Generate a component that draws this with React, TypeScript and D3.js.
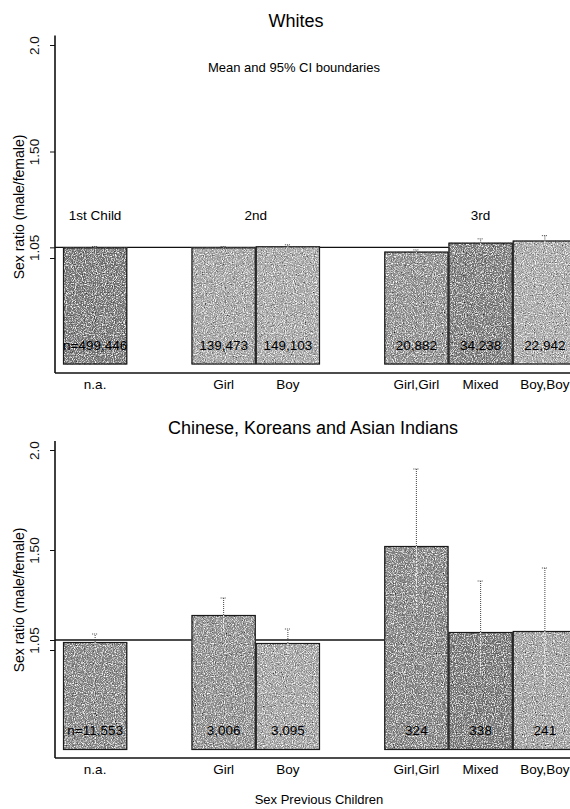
import React, { useEffect, useRef } from 'react';
import * as d3 from 'd3';

// categories (slot index leaves gaps between birth orders)
const categories = ['n.a.', 'Girl', 'Boy', 'Girl,Girl', 'Mixed', 'Boy,Boy'];
const slots = [0, 2, 3, 5, 6, 7];
const groupLabels = ['1st Child', '2nd', '3rd'];
const groupCenters = [0.5, 3, 6.5];

// Whites
const whitesMean = [1.05, 1.05, 1.055, 1.03, 1.072, 1.082];
const whitesUpper = [1.054, 1.054, 1.062, 1.038, 1.09, 1.105];
const whitesLower = [1.046, 1.046, 1.048, 1.022, 1.054, 1.06];
const whitesN = ['n=499,446', '139,473', '149,103', '20,882', '34,238', '22,942'];

// Chinese, Koreans and Asian Indians
const asianMean = [1.04, 1.175, 1.035, 1.52, 1.09, 1.095];
const asianUpper = [1.08, 1.26, 1.105, 1.905, 1.345, 1.41];
const asianLower = [1.0, 1.09, 0.97, 1.2, 0.885, 0.83];
const asianN = ['n=11,553', '3,006', '3,095', '324', '338', '241'];

const tickValues = [1, 1.05, 1.5, 2];
const tickLabels = ['', '1.05', '1.50', '2.0'];
const refLine = 1.05;
const barBase = 0.5;

const FONT = '"Liberation Sans", Arial, Helvetica, sans-serif';

const Chart = () => {
  const svgRef = useRef<SVGSVGElement>(null);

  useEffect(() => {
    const width = 570;
    const height = 809;
    const axisX = 55;

    d3.select(svgRef.current).selectAll('*').remove();
    const svg = d3.select(svgRef.current).attr('width', width).attr('height', height);

    const x = d3.scaleLinear().domain([0, 8]).range([63, 577]);

    const panels = [
      {
        title: 'Whites', titleX: 296, titleY: 27,
        mean: whitesMean, upper: whitesUpper, lower: whitesLower, n: whitesN,
        yRange: [258, 45], groups: true,
        fills: ['#777', '#a3a3a3', '#a6a6a6', '#8f8f8f', '#7b7b7b', '#a8a8a8'],
        labelY: 207,
      },
      {
        title: 'Chinese, Koreans and Asian Indians', titleX: 313, titleY: 434,
        mean: asianMean, upper: asianUpper, lower: asianLower, n: asianN,
        yRange: [650, 450], groups: false,
        fills: ['#858585', '#8f8f8f', '#a2a2a2', '#848484', '#777', '#a0a0a0'],
        labelY: 600,
      },
    ];

    panels.forEach((p) => {
      const y = d3.scaleLinear().domain([1, 2]).range(p.yRange);
      const g = svg.append('g');
      const bottom = y(0.46);

      // Title
      g.append('text')
        .attr('x', p.titleX).attr('y', p.titleY)
        .attr('text-anchor', 'middle')
        .attr('font-size', 18)
        .text(p.title);

      // Reference line (behind bars)
      g.append('line')
        .attr('x1', axisX).attr('x2', width)
        .attr('y1', y(refLine)).attr('y2', y(refLine))
        .attr('stroke', '#111').attr('stroke-width', 1.3);

      // Bars (textured fill, then plain outline on top)
      g.selectAll('.bar')
        .data(p.mean)
        .enter()
        .append('rect')
        .attr('class', 'bar')
        .attr('x', (d, i) => x(slots[i]))
        .attr('width', (d, i) => x(slots[i] + 1) - x(slots[i]))
        .attr('y', (d) => y(d))
        .attr('height', (d) => y(barBase) - y(d))
        .attr('fill', (d, i) => p.fills[i])
        .attr('filter', 'url(#grain)');

      g.selectAll('.outline')
        .data(p.mean)
        .enter()
        .append('rect')
        .attr('class', 'outline')
        .attr('x', (d, i) => x(slots[i]) + 0.5)
        .attr('width', (d, i) => x(slots[i] + 1) - x(slots[i]) - 1)
        .attr('y', (d) => y(d) + 0.5)
        .attr('height', (d) => y(barBase) - y(d) - 1)
        .attr('fill', 'none')
        .attr('stroke', '#1a1a1a')
        .attr('stroke-width', 1.2);

      // Lower CI (inside bar)
      g.selectAll('.ciLow')
        .data(p.lower)
        .enter()
        .append('line')
        .attr('x1', (d, i) => x(slots[i] + 0.5)).attr('x2', (d, i) => x(slots[i] + 0.5))
        .attr('y1', (d, i) => y(p.mean[i])).attr('y2', (d) => y(d))
        .attr('stroke', '#f2f2f2').attr('stroke-width', 1).attr('stroke-dasharray', '2,1');

      // Upper CI
      g.selectAll('.ciUp')
        .data(p.upper)
        .enter()
        .append('line')
        .attr('x1', (d, i) => x(slots[i] + 0.5)).attr('x2', (d, i) => x(slots[i] + 0.5))
        .attr('y1', (d, i) => y(p.mean[i])).attr('y2', (d) => y(d))
        .attr('stroke', '#444').attr('stroke-width', 1).attr('stroke-dasharray', '1,1');

      g.selectAll('.cap')
        .data(p.upper)
        .enter()
        .append('line')
        .attr('x1', (d, i) => x(slots[i] + 0.5) - 3).attr('x2', (d, i) => x(slots[i] + 0.5) + 3)
        .attr('y1', (d) => y(d)).attr('y2', (d) => y(d))
        .attr('stroke', '#444').attr('stroke-width', 1).attr('stroke-dasharray', '1,1');

      // Counts inside bars
      g.selectAll('.count')
        .data(p.n)
        .enter()
        .append('text')
        .attr('x', (d, i) => x(slots[i] + 0.5))
        .attr('y', y(barBase) - 15)
        .attr('text-anchor', 'middle')
        .attr('font-size', 13.5)
        .attr('fill', '#000')
        .text((d) => d);

      // Category labels
      g.selectAll('.cat')
        .data(categories)
        .enter()
        .append('text')
        .attr('x', (d, i) => x(slots[i] + 0.5))
        .attr('y', bottom + 16)
        .attr('text-anchor', 'middle')
        .attr('font-size', 13.5)
        .text((d) => d);

      // Group labels
      if (p.groups) {
        g.selectAll('.grp')
          .data(groupLabels)
          .enter()
          .append('text')
          .attr('x', (d, i) => x(groupCenters[i]))
          .attr('y', 220)
          .attr('text-anchor', 'middle')
          .attr('font-size', 13.5)
          .text((d) => d);

        g.append('text')
          .attr('x', 294).attr('y', 72)
          .attr('text-anchor', 'middle')
          .attr('font-size', 13)
          .text('Mean and 95% CI boundaries');
      }

      // X axis line
      g.append('line')
        .attr('x1', axisX).attr('x2', width)
        .attr('y1', bottom).attr('y2', bottom)
        .attr('stroke', '#111').attr('stroke-width', 1.6);

      // Y axis
      const yAxis = g.append('g')
        .attr('transform', `translate(${axisX},0)`)
        .call(
          d3.axisLeft(y)
            .tickValues(tickValues)
            .tickSize(5)
            .tickFormat((d, i) => tickLabels[i])
        );
      yAxis.select('.domain').remove();
      yAxis.selectAll('line').attr('stroke', '#111');
      yAxis.selectAll('text')
        .attr('transform', 'rotate(-90)')
        .attr('x', 0).attr('y', -16).attr('dy', 0)
        .attr('text-anchor', 'middle')
        .attr('font-size', 13.5)
        .attr('font-family', FONT)
        .attr('fill', '#111');

      g.append('line')
        .attr('x1', axisX).attr('x2', axisX)
        .attr('y1', y(2.045)).attr('y2', bottom)
        .attr('stroke', '#111').attr('stroke-width', 1.6);

      // Y axis label
      g.append('text')
        .attr('transform', `translate(24,${p.labelY}) rotate(-90)`)
        .attr('text-anchor', 'middle')
        .attr('font-size', 14)
        .text('Sex ratio (male/female)');
    });

    // X axis title
    svg.append('text')
      .attr('x', 319).attr('y', 804)
      .attr('text-anchor', 'middle')
      .attr('font-size', 13)
      .text('Sex Previous Children');
  }, []);

  return (
    <svg
      ref={svgRef}
      style={{ position: 'absolute', left: 0, top: 0, fontFamily: FONT, background: '#fff' }}
    >
    </svg>
  );
};

// halftone-like grain for the bar fills
const Grain = () => (
  <svg width={0} height={0} style={{ position: 'absolute' }}>
    <defs>
      <filter id="grain" x="0" y="0" width="1" height="1">
        <feTurbulence type="fractalNoise" baseFrequency="0.9" numOctaves={2} seed={4} result="noise" />
        <feColorMatrix
          in="noise"
          type="matrix"
          values="0 0 0 0 1  0 0 0 0 1  0 0 0 0 1  3.2 0 0 0 -1.55"
          result="light"
        />
        <feColorMatrix
          in="noise"
          type="matrix"
          values="0 0 0 0 0  0 0 0 0 0  0 0 0 0 0  -3.2 0 0 0 1.35"
          result="dark"
        />
        <feComposite in="light" in2="SourceGraphic" operator="in" result="lightIn" />
        <feComposite in="dark" in2="SourceGraphic" operator="in" result="darkIn" />
        <feMerge>
          <feMergeNode in="SourceGraphic" />
          <feMergeNode in="lightIn" />
          <feMergeNode in="darkIn" />
        </feMerge>
      </filter>
    </defs>
  </svg>
);

const App = () => (
  <>
    <Grain />
    <Chart />
  </>
);

export default App;
